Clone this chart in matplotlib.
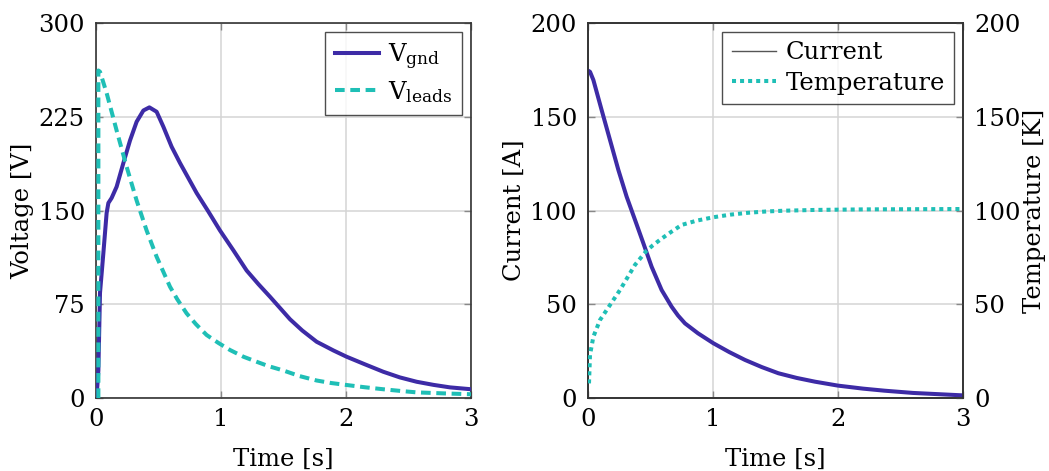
import matplotlib
matplotlib.use("Agg")
import matplotlib.pyplot as plt
from matplotlib.lines import Line2D

# ---- data ----
t_gnd = [0.0, 0.005, 0.019, 0.032, 0.059, 0.085, 0.099, 0.125, 0.165, 0.219,
         0.272, 0.325, 0.379, 0.427, 0.485, 0.539, 0.605, 0.672, 0.805, 0.9,
         0.992, 1.1, 1.205, 1.3, 1.392, 1.552, 1.65, 1.765, 1.9, 2.005, 2.15,
         2.298, 2.43, 2.565, 2.7, 2.832, 3.0]
v_gnd = [0.0, 1.0, 22.0, 84.0, 116.0, 148.0, 156.0, 160.0, 169.0, 188.0,
         206.0, 221.0, 230.0, 232.5, 229.0, 217.0, 201.0, 188.0, 164.0, 149.0,
         134.0, 118.0, 102.0, 91.0, 81.0, 63.0, 54.0, 45.0, 38.0, 33.0, 27.0,
         21.0, 16.5, 13.0, 10.5, 8.5, 7.0]

t_leads = [0.019, 0.019, 0.032, 0.085, 0.165, 0.245, 0.325, 0.405, 0.485, 0.592,
           0.65, 0.725, 0.8, 0.885, 0.98, 1.072, 1.18, 1.285, 1.38, 1.499,
           1.63, 1.765, 1.88, 2.005, 2.15, 2.298, 2.43, 2.565, 2.78, 3.0]
v_leads = [0.0, 262.0, 261.0, 244.0, 214.0, 185.0, 158.0, 134.0, 113.0, 89.0,
           79.0, 67.7, 59.0, 50.4, 44.0, 38.4, 33.0, 29.0, 25.5, 22.0,
           17.5, 14.0, 12.0, 10.4, 8.6, 7.0, 5.7, 4.5, 3.7, 3.0]

t_cur = [0.0, 0.016, 0.043, 0.109, 0.176, 0.243, 0.309, 0.376, 0.443, 0.509,
         0.589, 0.669, 0.72, 0.776, 0.88, 1.003, 1.13, 1.256, 1.39, 1.523,
         1.67, 1.816, 2.0, 2.2, 2.372, 2.6, 3.0]
current = [174.6, 174.0, 169.6, 153.6, 137.6, 121.6, 107.4, 95.0, 82.5, 70.0,
           57.6, 48.7, 44.0, 39.8, 34.5, 29.2, 24.5, 20.3, 16.5, 13.2,
           10.7, 8.7, 6.6, 5.0, 3.9, 2.7, 1.4]

t_temp = [0.008, 0.016, 0.043, 0.096, 0.176, 0.256, 0.376, 0.469, 0.52, 0.589,
          0.67, 0.749, 0.87, 1.003, 1.14, 1.283, 1.43, 1.576, 1.816, 2.2, 3.0]
temperature = [7.8, 23.0, 32.7, 41.6, 49.6, 57.6, 71.0, 78.6, 81.5, 85.0,
               88.8, 92.3, 94.6, 96.4, 97.8, 98.8, 99.5, 99.9, 100.3, 100.6, 100.8]

x_ticks = [0, 1, 2, 3]
v_ticks = [0, 75, 150, 225, 300]
i_ticks = [0, 50, 100, 150, 200]

PURPLE = "#3d2ba6"
TEAL = "#1fbfb6"
GRID = "#d4d4d4"
FS = 17.5

plt.rcParams["font.family"] = ["DejaVu Serif"]
plt.rcParams["mathtext.fontset"] = "dejavuserif"
plt.rcParams["lines.solid_joinstyle"] = "round"
plt.rcParams["lines.dash_joinstyle"] = "round"

fig = plt.figure(figsize=(10.49, 4.71), dpi=100)
W, H = 1049, 471
axL = fig.add_axes([96 / W, 73 / H, 375 / W, 375 / H])
axR = fig.add_axes([588 / W, 73 / H, 375 / W, 375 / H])

LEG_KW = dict(fontsize=FS, frameon=True, fancybox=False, edgecolor="#222222",
              borderaxespad=0.35, handlelength=1.8, handletextpad=0.4,
              borderpad=0.4, labelspacing=0.3)


def style(ax, left=True, right=True):
    ax.grid(True, color=GRID, lw=1.1)
    ax.set_axisbelow(True)
    for s in ax.spines.values():
        s.set_color("#333333")
        s.set_linewidth(1.2)
    ax.tick_params(direction="in", length=5, width=1.0, color="#888888",
                   labelsize=FS, top=True, left=left, right=right, pad=8)
    ax.tick_params(axis="x", pad=7)


# ---- left: voltages ----
axL.plot(t_gnd, v_gnd, color=PURPLE, lw=2.9, label=r"V$_{\mathrm{gnd}}$", zorder=3)
axL.plot(t_leads, v_leads, color=TEAL, lw=2.9, ls=(0, (2.4, 1.4)),
         label=r"V$_{\mathrm{leads}}$", zorder=3)
axL.set_xlim(0, 3)
axL.set_ylim(0, 300)
axL.set_xticks(x_ticks)
axL.set_yticks(v_ticks)
style(axL)
axL.set_xlabel("Time [s]", fontsize=FS, labelpad=12)
axL.set_ylabel("Voltage [V]", fontsize=FS, labelpad=3)
leg = axL.legend(loc="upper right", **LEG_KW)
leg.get_frame().set_linewidth(1.0)

# ---- right: current and temperature ----
axR.plot(t_cur, current, color=PURPLE, lw=2.9, zorder=3)
axR.set_xlim(0, 3)
axR.set_ylim(0, 200)
axR.set_xticks(x_ticks)
axR.set_yticks(i_ticks)
style(axR, left=True, right=False)
axR.set_xlabel("Time [s]", fontsize=FS, labelpad=12)
axR.set_ylabel("Current [A]", fontsize=FS, labelpad=3)

axT = axR.twinx()
axT.plot(t_temp, temperature, color=TEAL, lw=2.9, ls=(0, (1.0, 1.0)), zorder=3)
axT.set_ylim(0, 200)
axT.set_yticks(i_ticks)
axT.tick_params(direction="in", length=5, width=1.0, color="#888888",
                labelsize=FS, pad=8)
for s in axT.spines.values():
    s.set_color("#333333")
    s.set_linewidth(1.2)
axT.set_ylabel("Temperature [K]", fontsize=FS, labelpad=2)

handles = [Line2D([], [], color="#555555", lw=1.0),
           Line2D([], [], color=TEAL, lw=2.9, ls=(0, (1.0, 1.0)))]
legR = axT.legend(handles, ["Current", "Temperature"], loc="upper right", **LEG_KW)
legR.get_frame().set_linewidth(1.0)

fig.savefig("out.png", dpi=100)
